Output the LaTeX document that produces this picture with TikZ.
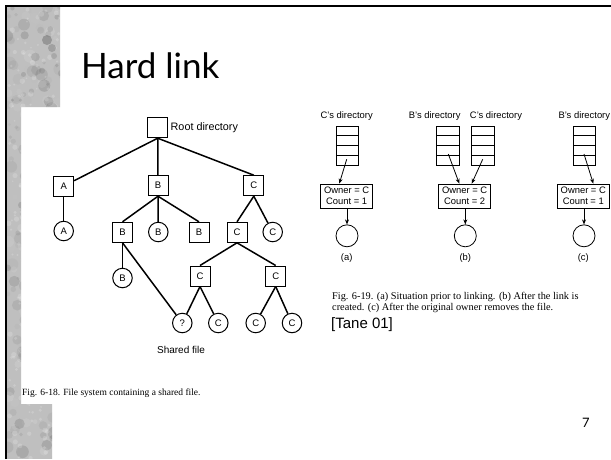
\documentclass[tikz,border=0pt]{standalone}
\usepackage{fontspec}
\setmainfont{Liberation Serif}
\setsansfont{Liberation Sans}
\newfontfamily\titlefont{Lato}
\usetikzlibrary{arrows.meta,calc}
\tikzset{
  treebox/.style={draw, line width=1pt, minimum size=20pt, inner sep=0pt, font=\sffamily\fontsize{9.5}{11}\selectfont},
  treefile/.style={draw, circle, line width=1pt, minimum size=19.5pt, inner sep=0pt, font=\sffamily\fontsize{9.5}{11}\selectfont},
  treeedge/.style={line width=1.5pt},
  smalllbl/.style={font=\sffamily\fontsize{9.4}{11}\selectfont, inner sep=0pt},
  dirstack/.style={draw, line width=0.8pt, minimum width=22.7pt, minimum height=39pt, inner sep=0pt,
    path picture={\foreach \k in {1,2,3}{\draw[line width=0.8pt] ($(path picture bounding box.north west)!\k/4!(path picture bounding box.south west)$) -- ($(path picture bounding box.north east)!\k/4!(path picture bounding box.south east)$);}}},
  inode/.style={draw, line width=0.8pt, minimum width=52pt, minimum height=24pt, inner sep=1pt, align=center, font=\sffamily\fontsize{9.4}{11}\selectfont},
  inodefile/.style={draw, circle, line width=0.8pt, minimum size=22pt, inner sep=0pt},
  arr/.style={line width=0.8pt, -{Stealth[length=5pt,width=4pt]}},
  caption/.style={font=\fontsize{9.5}{11}\selectfont, inner sep=0pt}
}
\begin{document}
\begin{tikzpicture}[x=1pt,y=-1pt]
\useasboundingbox (0,0) rectangle (611,459);
\fill[white] (0,0) rectangle (611,459);
% textured strip
\begin{scope}
\clip (7,7) -- (60,7) -- (60,107) -- (21,107) -- (21,404) -- (52,404) -- (52,459) -- (7,459) -- cycle;
\fill[gray!50] (0,0) rectangle (70,459);
\pgfmathsetseed{11}
\foreach \i in {1,...,260}{
  \pgfmathsetmacro\xx{7+rnd*55}
  \pgfmathsetmacro\yy{7+rnd*452}
  \pgfmathsetmacro\rr{1.5+rnd*5}
  \pgfmathtruncatemacro\gv{rnd*100}
  \fill[black!\gv, opacity=0.12] (\xx,\yy) circle[radius=\rr];
}
\foreach \i in {1,...,200}{
  \pgfmathsetmacro\xx{7+rnd*55}
  \pgfmathsetmacro\yy{7+rnd*452}
  \pgfmathsetmacro\rr{0.8+rnd*2}
  \fill[white, opacity=0.18] (\xx,\yy) circle[radius=\rr];
}
\fill[black!60, opacity=0.45] (47,40) circle[radius=5];
\fill[black!55, opacity=0.4] (52,48) circle[radius=4];
\fill[black!50, opacity=0.35] (54,56) circle[radius=3];
\end{scope}
% borders
\draw[line width=2pt] (6,459) -- (6,6) -- (611,6);
% title
\node[anchor=base west, inner sep=0pt, font=\titlefont\fontsize{35}{40}\selectfont] (title) at (81,78) {Hard link};
% ---------- tree ----------
\node[treebox] (root) at (157.7,127.7) {};
\node[anchor=west, inner sep=0pt, font=\sffamily\fontsize{10.8}{12}\selectfont] (rootlbl) at (170.5,127.5) {Root directory};
\node[treebox] (A) at (63.7,186) {A};
\node[treebox] (B) at (158,185.7) {B};
\node[treebox] (C) at (253.8,185.7) {C};
\node[treefile] (a1) at (63.7,231) {A};
\node[treebox] (b1) at (122.5,232.3) {B};
\node[treefile] (b2) at (158.3,232) {B};
\node[treebox] (b3) at (199,232.3) {B};
\node[treebox] (c1) at (237,232.3) {C};
\node[treefile] (c2) at (272.7,232) {C};
\node[treefile] (b11) at (122.5,278) {B};
\node[treebox] (c11) at (200,276) {C};
\node[treebox] (c12) at (275.7,276) {C};
\node[treefile] (q) at (182.3,323) {?};
\node[treefile] (c111) at (218.3,323) {C};
\node[treefile] (c121) at (255.7,323) {C};
\node[treefile] (c122) at (292,323) {C};
\node[font=\sffamily\fontsize{10}{12}\selectfont, inner sep=0pt] (shared) at (181,350) {Shared file};
\draw[treeedge] (root.south) -- (A);
\draw[treeedge] (root) -- (B);
\draw[treeedge] (root.south) -- (C.north);
\draw[treeedge] (A) -- (a1);
\draw[treeedge] (B.south) -- (b1.north);
\draw[treeedge] (B) -- (b2);
\draw[treeedge] (B.south) -- (b3.north);
\draw[treeedge] (C.south) -- (c1.north);
\draw[treeedge] (C.south) -- (c2);
\draw[treeedge] (b1) -- (b11);
\draw[treeedge] (b1.south) -- (q);
\draw[treeedge] (c1.south) -- (c11.north);
\draw[treeedge] (c1.south) -- (c12.north);
\draw[treeedge] (c11.south) -- (q);
\draw[treeedge] (c11.south) -- (c111);
\draw[treeedge] (c12.south) -- (c121);
\draw[treeedge] (c12.south) -- (c122);
\node[caption, anchor=base west] (cap18) at (22,395) {Fig. 6-18. File system containing a shared file.};
% ---------- right figure ----------
\node[smalllbl] (dlA) at (346.7,115.7) {C's directory};
\node[smalllbl] (dlB1) at (434.7,115.7) {B's directory};
\node[smalllbl] (dlB2) at (496,115.7) {C's directory};
\node[smalllbl] (dlC) at (584.3,115.7) {B's directory};
\node[dirstack] (dA) at (347.3,145.5) {};
\node[dirstack] (dB) at (447.8,145.5) {};
\node[dirstack] (dB2) at (483.2,145.5) {};
\node[dirstack] (dC) at (584.3,145.5) {};
\node[inode] (iA) at (346.7,196) {Owner = C\\Count = 1};
\node[inode] (iB) at (464.7,196) {Owner = C\\Count = 2};
\node[inode] (iC) at (583.3,196) {Owner = C\\Count = 1};
\node[inodefile] (fA) at (347,235.8) {};
\node[inodefile] (fB) at (465.3,235.8) {};
\node[inodefile] (fC) at (584,235.8) {};
\coordinate (sA) at (346.7,159.3);
\coordinate (sB1) at (448.3,154);
\coordinate (sB2) at (482.7,159.3);
\coordinate (sC) at (584,154);
\draw[arr] (sA) -- ($(iA.north)+(-7.4,0)$);
\draw[arr] (sB1) -- ($(iB.north)+(-5.4,0)$);
\draw[arr] (sB2) -- ($(iB.north)+(7,0)$);
\draw[arr] (sC) -- ($(iC.north)+(10,0)$);
\draw[arr] (iA.south -| fA) -- (fA.north);
\draw[arr] (iB.south -| fB) -- (fB.north);
\draw[arr] (iC.south -| fC) -- (fC.north);
\node[smalllbl] (la) at (346.7,258.3) {(a)};
\node[smalllbl] (lb) at (465.3,258.3) {(b)};
\node[smalllbl] (lc) at (583.3,258.3) {(c)};
\node[caption, font=\fontsize{10.3}{11.5}\selectfont, anchor=base west] (cap19a) at (332,299.5) {Fig. 6-19. (a) Situation prior to linking. (b) After the link is};
\node[caption, font=\fontsize{10.3}{11.5}\selectfont, anchor=base west] (cap19b) at (332,310.5) {created. (c) After the original owner removes the file.};
\node[anchor=base west, inner sep=0pt, font=\sffamily\fontsize{15}{17}\selectfont] (tane) at (331,328) {[Tane 01]};
\node[anchor=base, inner sep=0pt, font=\titlefont\fontsize{13}{15}\selectfont] (pg) at (586,427) {7};
\end{tikzpicture}
\end{document}
